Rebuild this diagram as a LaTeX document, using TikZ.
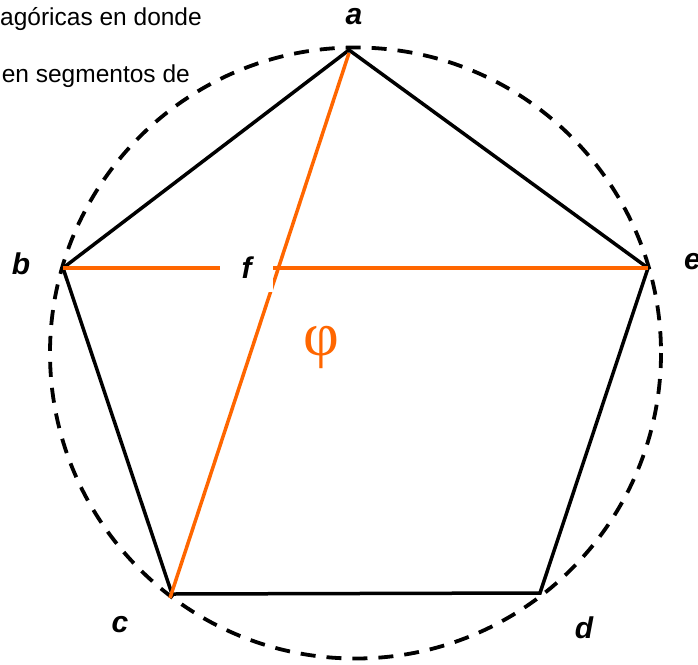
\documentclass[tikz,border=0pt]{standalone}
\usepackage{fontspec}
\setmainfont{Liberation Sans}
\newfontfamily\phifont{Liberation Serif}
\definecolor{orng}{RGB}{255,102,0}
\tikzset{
  pent/.style={draw=black, line width=3.5pt, line join=miter},
  gold/.style={draw=orng, line width=3.5pt},
  circdash/.style={draw=black, line width=3.8pt, dash pattern=on 15pt off 11pt},
  vlabel/.style={font=\fontsize{30}{36}\selectfont\bfseries\itshape, inner sep=0pt},
  bodytext/.style={font=\fontsize{24.5}{29}\selectfont, inner sep=0pt, anchor=base east},
}
\begin{document}
\begin{tikzpicture}[x=1pt,y=-1pt]
\useasboundingbox (0,0) rectangle (698,664);
% circle
\draw[circdash] (355.5,353) circle (305.5);
% vertices
\coordinate (a) at (349,50);
\coordinate (b) at (63,268);
\coordinate (c) at (172,594);
\coordinate (d) at (540,593);
\coordinate (e) at (648,268);
\coordinate (cO) at (170,598);
\coordinate (aO) at (349,53);
% pentagon
\draw[pent] (a) -- (e) -- (d) -- (c) -- (b) -- cycle;
% orange lines
\draw[gold] (aO) -- (cO);
\draw[gold] (b) -- (e);
% f label with white background
\node[vlabel, fill=white, minimum width=53pt, minimum height=48pt] (f) at (246.5,268) {f};
% labels
\node[vlabel] (la) at (354,17) {a};
\node[vlabel] (lb) at (21,264) {b};
\node[vlabel] (lc) at (120,625) {c};
\node[vlabel] (ld) at (584,628) {d};
\node[vlabel, anchor=west] (le) at (684,262) {e};
\node[font=\fontsize{62}{70}\selectfont\phifont, text=orng, inner sep=0pt] (phi) at (321,347) {φ};
% text top-left
\node[bodytext] (t1) at (202,25) {agóricas en donde};
\node[bodytext] (t2) at (190,82) {en segmentos de};
\end{tikzpicture}
\end{document}
